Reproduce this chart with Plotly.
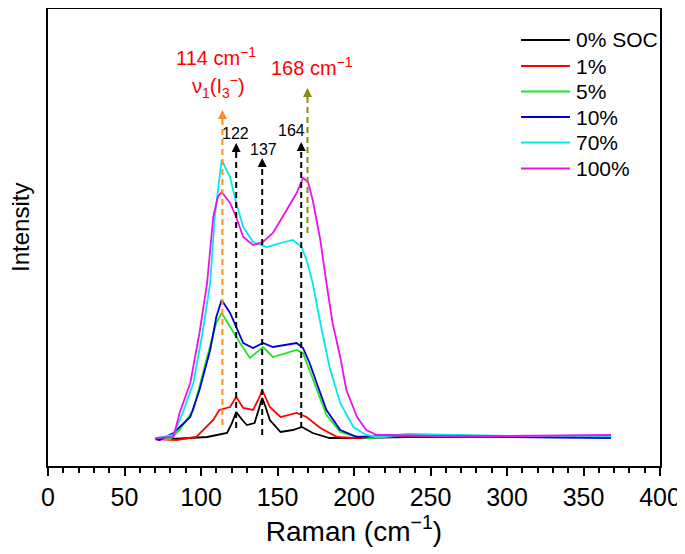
import plotly.graph_objects as go

# ---------------- data (Raman shift in cm^-1, intensity in arbitrary units) ----------------
series_names = ["0% SOC", "1%", "5%", "10%", "70%", "100%"]
series_colors = ["#000000", "#ff0000", "#1fe61f", "#0000d0", "#00eaea", "#ee10ee"]

raman_0 = [70, 81, 104, 117, 120, 123, 127, 130, 135, 138, 140, 142, 145, 152, 160, 166, 173, 184, 200, 235, 300, 368]
int_0 = [27, 27, 29, 33, 42, 54, 46, 41, 43, 58, 68, 60, 46, 34, 36, 39, 33, 28, 28, 29, 29, 29]

raman_1 = [70, 84, 97, 108, 112, 119, 123, 127.6, 134, 138, 140, 145, 152, 162.5, 169, 178, 189, 200, 235, 300, 368]
int_1 = [27, 26, 29, 46, 56, 59, 69, 58, 56, 68, 76, 59, 49, 53, 49, 38, 29, 28, 30, 29, 29]

raman_5 = [70, 80, 86, 95, 104, 110, 113.5, 119, 125.5, 132, 140.5, 147, 156, 162.5, 166.7, 171, 175.6, 182, 191, 200, 210, 235, 300, 368]
int_5 = [27, 27, 36, 56, 109, 143, 153, 139, 123, 108, 119, 109, 113, 116, 113, 96, 76, 51, 34, 30, 28, 31, 29, 29]

raman_10 = [70, 73, 82, 93, 99, 106, 110, 113.5, 119, 123, 127.6, 134, 140.5, 147, 156, 162.5, 166.7, 171, 175.6, 182, 191, 202, 235, 300, 368]
int_10 = [27, 26, 33, 49, 76, 116, 149, 166, 153, 139, 123, 118, 123, 119, 121, 123, 118, 103, 83, 56, 36, 29, 31, 29, 28]

raman_70 = [70, 71, 82, 88, 95, 101, 106, 109, 113.5, 119, 123, 127.6, 134, 143, 152, 160, 165.8, 169, 173, 178, 184, 191, 199.6, 208, 215, 235, 300, 368]
int_70 = [27, 28, 31, 53, 83, 133, 183, 249, 306, 289, 263, 239, 224, 219, 223, 226, 219, 206, 183, 143, 99, 63, 39, 31, 29, 32, 30, 30]

raman_100 = [70, 71, 82, 86, 93, 99, 104, 108, 111, 113.5, 119, 123, 127.6, 134, 140.5, 147, 156, 162.5, 166.7, 170, 173, 178, 182, 186, 191, 195, 202, 208, 215, 221, 250, 300, 368]
int_100 = [27, 28, 29, 53, 83, 133, 183, 249, 269, 274, 263, 249, 229, 221, 224, 233, 256, 273, 288, 284, 266, 226, 183, 143, 109, 76, 49, 36, 31, 31, 30, 30, 31]

raman_x = [raman_0, raman_1, raman_5, raman_10, raman_70, raman_100]
intensity_y = [int_0, int_1, int_5, int_10, int_70, int_100]

# marker lines (peak positions): x, bottom, top, colour
peak_x = [114, 123, 140, 165.5, 169.6]
peak_bottom = [41, 38, 31, 38, 233]
peak_top = [356, 323, 308, 324, 378]
peak_colors = ["#ff8c1e", "#000000", "#000000", "#000000", "#8a8a10"]

black_labels = ["122", "137", "164"]

x_tick_vals = [0, 50, 100, 150, 200, 250, 300, 350, 400]

FONT = "Liberation Sans, Arial, Helvetica, sans-serif"
OFF = 8                      # page body margin
W, H = 685 - OFF, 554 - OFF
L, R, T, B = 48 - OFF, W - (660 - OFF), 1, H - (466 - OFF)


def px_to_paper(px, py):
    lx, ly = px - OFF, py - OFF
    return (lx - L) / (W - L - R), (H - B - ly) / (H - T - B)


fig = go.Figure()

for name, color, xs, ys in zip(series_names, series_colors, raman_x, intensity_y):
    fig.add_trace(go.Scatter(x=xs, y=ys, mode="lines", name=name,
                             line=dict(color=color, width=1.8), showlegend=False))

for xv, y0, y1, c in zip(peak_x, peak_bottom, peak_top, peak_colors):
    fig.add_trace(go.Scatter(x=[xv, xv], y=[y0, y1 - 6], mode="lines",
                             line=dict(color=c, width=2, dash="6px,4px"),
                             showlegend=False, hoverinfo="skip"))
    fig.add_annotation(x=xv, y=y1, ax=xv, ay=y1 - 10, axref="x", ayref="y",
                       xref="x", yref="y", text="", showarrow=True,
                       arrowhead=2, arrowsize=0.9, arrowwidth=2, arrowcolor=c)

# black peak labels
for txt, (px, py) in zip(black_labels, [(235, 134), (263.5, 149), (291.5, 131)]):
    xp, yp = px_to_paper(px, py)
    fig.add_annotation(x=xp, y=yp, xref="paper", yref="paper", text=txt,
                       xanchor="center", yanchor="middle",
                       showarrow=False, font=dict(family=FONT, size=16, color="black"))

# red labels
red_labels = [("114 cm<sup>−1</sup>", 216, 56),
              ("ν<sub>1</sub>(I<sub>3</sub><sup>−</sup>)", 218, 87),
              ("168 cm<sup>−1</sup>", 312, 67)]
for txt, px, py in red_labels:
    xp, yp = px_to_paper(px, py)
    fig.add_annotation(x=xp, y=yp, xref="paper", yref="paper", text=txt,
                       xanchor="center", yanchor="middle",
                       showarrow=False, font=dict(family=FONT, size=20, color="#ff0000"))

# y-axis title
xp, yp = px_to_paper(20, 228)
fig.add_annotation(x=xp, y=yp, xref="paper", yref="paper", text="Intensity", textangle=-90,
                   xanchor="center", yanchor="middle", showarrow=False,
                   font=dict(family=FONT, size=24, color="black"))

# legend (drawn manually to match sample length and row spacing)
legend_rows = [40, 66, 91.5, 117, 142.5, 168.5]
for name, color, py in zip(series_names, series_colors, legend_rows):
    x0, yy = px_to_paper(521, py)
    x1, _ = px_to_paper(570, py)
    fig.add_shape(type="line", xref="paper", yref="paper", x0=x0, x1=x1, y0=yy, y1=yy,
                  line=dict(color=color, width=2))
    xt, _ = px_to_paper(574, py)
    fig.add_annotation(x=xt, y=yy, xref="paper", yref="paper", text=name, xanchor="left",
                       yanchor="middle", showarrow=False,
                       font=dict(family=FONT, size=21, color="black"))

fig.update_layout(
    width=W, height=H, template="none",
    margin=dict(l=L, r=R, t=T, b=B),
    paper_bgcolor="white", plot_bgcolor="white",
    font=dict(family=FONT, color="black"),
    xaxis=dict(range=[0, 400], tickvals=x_tick_vals, showline=True, linewidth=2,
               linecolor="black", mirror=True, ticks="outside", ticklen=8, tickwidth=2,
               tickcolor="black", showgrid=False, zeroline=False, automargin=False,
               ticklabeloverflow="allow",
               minor=dict(dtick=10, ticks="outside", ticklen=5, tickwidth=1.5, tickcolor="black", showgrid=False),
               tickfont=dict(family=FONT, size=25),
               title=dict(text="Raman (cm<sup>−1</sup>)", font=dict(family=FONT, size=28), standoff=6)),
    yaxis=dict(range=[0, 457], showline=True, linewidth=2, linecolor="black", mirror=True,
               ticks="", showticklabels=False, showgrid=False, zeroline=False, automargin=False),
)

fig.write_html("out.html")
